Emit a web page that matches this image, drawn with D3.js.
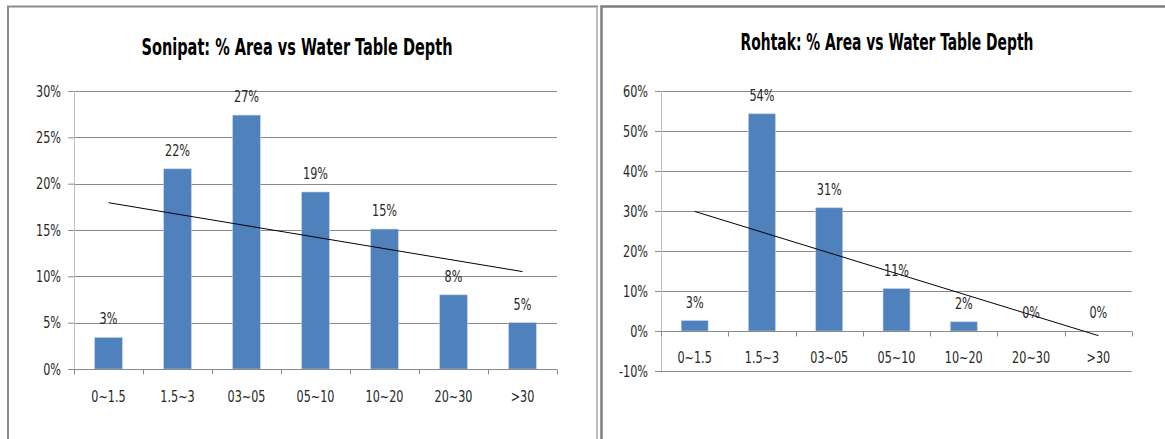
<!DOCTYPE html>
<html>
<head>
<meta charset="utf-8">
<script src="https://cdn.jsdelivr.net/npm/d3@7"></script>
<style>
  body { margin: 0; background: #fff; }
  text { font-family: "DejaVu Sans Condensed", "Liberation Sans Narrow", "Open Sans", sans-serif; fill: #262626; }
</style>
</head>
<body>
<script>
const categories = ["0~1.5", "1.5~3", "03~05", "05~10", "10~20", "20~30", ">30"];
const sonipatValues = [0.034, 0.216, 0.274, 0.191, 0.151, 0.080, 0.050];
const rohtakValues = [0.026, 0.543, 0.308, 0.106, 0.023, 0, 0];
const sonipatTicks = [0, 0.05, 0.10, 0.15, 0.20, 0.25, 0.30];
const rohtakTicks = [-0.10, 0, 0.10, 0.20, 0.30, 0.40, 0.50, 0.60];

const width = 1165;
const height = 439;
const sx = 0.78; // the source picture is squeezed sideways
const pct = (d) => d3.format(".0%")(d).replace("\u2212", "-");

const svg = d3.select("body").append("svg")
  .attr("width", width)
  .attr("height", height);

svg.append("rect")
  .attr("width", width)
  .attr("height", height)
  .attr("fill", "#fff");

// panel frames
svg.append("path")
  .attr("d", "M8,440 V6.5 H597 V440")
  .attr("fill", "none")
  .attr("stroke", "#8c8c8c")
  .attr("stroke-width", 2);
svg.append("line")
  .attr("x1", 597).attr("x2", 597).attr("y1", 7).attr("y2", 440)
  .attr("stroke", "#d0d0d0").attr("stroke-width", 1.5);
svg.append("path")
  .attr("d", "M601.5,440 V6.5 H1166")
  .attr("fill", "none")
  .attr("stroke", "#7f7f7f")
  .attr("stroke-width", 2.5);

function squishedText(parent, x, y, txt) {
  return parent.append("text")
    .attr("transform", `translate(${ x },${ y }) scale(${ sx },1)`)
    .attr("text-anchor", "middle")
    .style("font-size", "16px")
    .text(txt);
}

function drawChart(opts) {
  const g = svg.append("g");

  const x = d3.scaleBand()
    .domain(categories)
    .range([opts.left, opts.right])
    .paddingInner(0.6)
    .paddingOuter(0.3);

  const xb = d3.scaleBand()
    .domain(categories)
    .range([opts.left, opts.right]);

  const y = d3.scaleLinear()
    .domain(d3.extent(opts.ticks))
    .range([opts.bottom, opts.top]);

  // title, squeezed to the width it has in the source
  const title = g.append("text")
    .attr("text-anchor", "middle")
    .style("font-size", "23px")
    .style("font-weight", "bold")
    .style("fill", "#000")
    .text(opts.title);
  const tScale = opts.titleW / title.node().getComputedTextLength();
  title.attr("transform", `translate(${ opts.titleX },${ opts.titleY }) scale(${ tScale },1)`);

  // gridlines
  g.append("g")
    .selectAll("line")
    .data(opts.ticks.filter((t) => t !== 0))
    .enter().append("line")
    .attr("x1", opts.left)
    .attr("x2", opts.right)
    .attr("y1", (d) => Math.round(y(d)) + 0.5)
    .attr("y2", (d) => Math.round(y(d)) + 0.5)
    .attr("stroke", "#8a8a8a")
    .attr("stroke-width", 1);

  // y axis line
  g.append("line")
    .attr("x1", opts.left + 0.5).attr("x2", opts.left + 0.5)
    .attr("y1", y(opts.ticks[opts.ticks.length - 1]))
    .attr("y2", y(opts.ticks[0]))
    .attr("stroke", "#bfbfbf");

  const yAxis = g.append("g")
    .attr("transform", `translate(${ opts.left },0)`)
    .call(d3.axisLeft(y).tickValues(opts.ticks).tickFormat(pct).tickSize(6).tickPadding(7));
  yAxis.select(".domain").remove();
  yAxis.selectAll(".tick line").attr("stroke", "#8a8a8a");
  yAxis.selectAll("text")
    .attr("font-family", null)
    .attr("x", -13 / sx)
    .attr("transform", `scale(${ sx },1)`)
    .style("font-size", "16px")
    .style("fill", "#262626");

  // bars
  g.append("g")
    .selectAll("rect")
    .data(opts.values)
    .enter().append("rect")
    .attr("x", (d, i) => x(categories[i]))
    .attr("width", x.bandwidth())
    .attr("y", (d) => y(d))
    .attr("height", (d) => y(0) - y(d))
    .attr("fill", "#4f81bd")
    .attr("stroke", "#b9cde5")
    .attr("stroke-width", 0.6);

  // x axis at zero
  const y0 = Math.round(y(0)) + 0.5;
  g.append("line")
    .attr("x1", opts.left).attr("x2", opts.right)
    .attr("y1", y0).attr("y2", y0)
    .attr("stroke", "#8a8a8a");
  g.append("g")
    .selectAll("line")
    .data(categories.map((c) => xb(c)).concat([opts.right]))
    .enter().append("line")
    .attr("x1", (d) => Math.round(d) + 0.5)
    .attr("x2", (d) => Math.round(d) + 0.5)
    .attr("y1", y0)
    .attr("y2", y0 + 5)
    .attr("stroke", "#8a8a8a");

  const catG = g.append("g");
  categories.forEach((c) => {
    squishedText(catG, xb(c) + xb.bandwidth() / 2, y0 + opts.catOffset, c);
  });

  // linear trendline
  const n = opts.values.length;
  const xs = d3.range(1, n + 1);
  const mx = d3.mean(xs);
  const my = d3.mean(opts.values);
  const slope = d3.sum(xs, (k, i) => (k - mx) * (opts.values[i] - my)) / d3.sum(xs, (k) => (k - mx) * (k - mx));
  const trend = (k) => my + slope * (k - mx);
  g.append("line")
    .attr("x1", xb(categories[0]) + xb.bandwidth() / 2)
    .attr("y1", y(trend(1)))
    .attr("x2", xb(categories[n - 1]) + xb.bandwidth() / 2)
    .attr("y2", y(trend(n)))
    .attr("stroke", "#000")
    .attr("stroke-width", 1);

  // data labels
  const labG = g.append("g");
  opts.values.forEach((v, i) => {
    squishedText(labG, xb(categories[i]) + xb.bandwidth() / 2, y(v) - 13, pct(v));
  });
}

drawChart({
  title: "Sonipat: % Area vs Water Table Depth",
  titleX: 297, titleY: 55, titleW: 311,
  values: sonipatValues,
  ticks: sonipatTicks,
  left: 74, right: 557, top: 91, bottom: 369,
  catOffset: 32
});

drawChart({
  title: "Rohtak: % Area vs Water Table Depth",
  titleX: 887, titleY: 50, titleW: 293,
  values: rohtakValues,
  ticks: rohtakTicks,
  left: 661, right: 1132, top: 91, bottom: 371,
  catOffset: 31.5
});
</script>
</body>
</html>
